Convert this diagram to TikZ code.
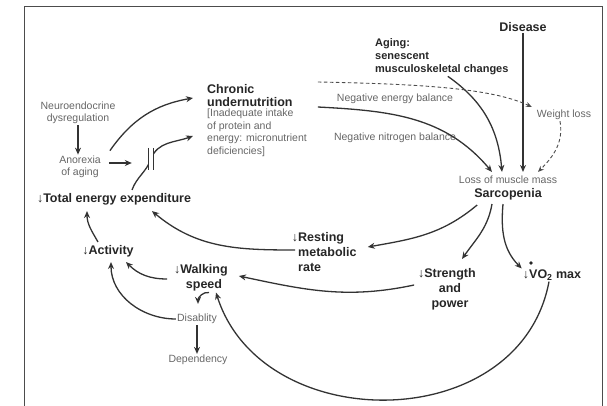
\documentclass[tikz,border=0pt]{standalone}
\usepackage{fontspec}
\setmainfont{Liberation Sans}
\usetikzlibrary{arrows.meta}

\tikzset{
  main/.style={font=\bfseries\fontsize{12.5}{15}\selectfont, text=black!85, inner sep=1pt, align=center},
  note/.style={font=\fontsize{10.5}{12.5}\selectfont, text=black!60, inner sep=1pt, align=center},
  link/.style={-{Stealth[length=7pt,width=6pt]}, line width=1.3pt, draw=black!80},
  hint/.style={-{Stealth[length=6pt,width=5pt]}, line width=0.9pt, draw=black!70, dash pattern=on 3.5pt off 2.5pt},
}
\newcommand{\dn}{↓}

\begin{document}
\begin{tikzpicture}[x=1pt,y=1pt]
\useasboundingbox (0,0) rectangle (607,-406);

% Frame
\draw[black!70, line width=1pt] (24,-406) -- (24,-7) -- (602,-7) -- (602,-406);

% Causes of sarcopenia
\node[main] (disease) at (523,-27) {Disease};
\node[main, font=\bfseries\fontsize{11}{13}\selectfont, anchor=west, align=left] (aging) at (374,-57) {Aging:\\senescent\\musculoskeletal changes};
\node[note] (weight) at (564,-115) {Weight loss};
\node[note] (loss) at (508,-180) {Loss of muscle mass};
\node[main] (sarco) at (508,-194) {Sarcopenia};
\node[note] (negen) at (395,-99) {Negative energy balance};
\node[note] (negni) at (395,-138) {Negative nitrogen balance};

% Undernutrition
\node[main, font=\bfseries\fontsize{12.5}{13.5}\selectfont, anchor=west, align=left] (chronic) at (206,-95.5) {Chronic\\undernutrition};
\node[note, anchor=west, align=left] (bracket) at (206,-133) {[Inadequate intake\\of protein and\\energy: micronutrient\\deficiencies]};
\node[note] (neuro) at (78,-113) {Neuroendocrine\\dysregulation};
\node[note] (anorexia) at (80,-167) {Anorexia\\of aging};
\node[inner sep=0, minimum width=4pt, minimum height=22pt] (brk) at (151,-159) {};
\coordinate (brkin) at ([shift={(-17pt,-4pt)}]brk.west);

% Energy expenditure and function
\node[main, inner ysep=6pt] (total) at (114,-199) {\dn Total energy expenditure};
\node[main, inner ysep=5pt] (activity) at (108,-251) {\dn Activity};
\node[main, anchor=west, align=left] (resting) at (297,-252) {\llap{\dn}Resting\\metabolic\\rate};
\node[main] (strength) at (450,-289) {\llap{\dn}Strength\\and\\power};
\node[main] (vo2) at (552,-275) {\dn VO\textsubscript{2} max};
\fill[black!85] ([shift={(-21pt,12pt)}]vo2.center) circle (1.8pt);
\node[main] (walking) at (204,-278) {\llap{\dn}Walking\\speed};
\node[note] (disab) at (197,-319) {Disablity};
\node[note] (depend) at (198,-360) {Dependency};

% Into sarcopenia
\draw[link] (disease.south) -- ([yshift=3pt]disease.south |- loss.north);
\draw[link] ([xshift=6pt]aging.south) to[out=-35,in=95] ([shift={(-6pt,3pt)}]loss.north);
\draw[link] ([shift={(24pt,-11.5pt)}]chronic.east) to[out=-3,in=130] ([shift={(-16pt,3pt)}]loss.north);
\draw[hint] ([shift={(24pt,13.5pt)}]chronic.east) .. controls +(101pt,-2pt) and +(-41pt,19pt) .. ([shift={(-4pt,2pt)}]weight.north west);
\draw[hint] ([xshift=-4pt]weight.south) to[out=-80,in=45] ([shift={(30pt,3pt)}]loss.north);

% Into undernutrition
\draw[link] (neuro.south) -- (neuro.south |- anorexia.north);
\draw[link] ([shift={(8pt,4pt)}]anorexia.north east) to[out=55,in=190] ([shift={(-13pt,-2.5pt)}]chronic.west);
\draw[link] ([shift={(7pt,4pt)}]anorexia.east) -- (brkin);
\draw[link] ([shift={(18pt,-3pt)}]total.north) to[out=70,in=250] (brk.center) to[out=70,in=200] ([shift={(-13pt,-3pt)}]bracket.west);
\fill[white] (brk.north west) rectangle (brk.south east);
\draw[line width=1.1pt, black!80] (brk.north west) -- (brk.south west) (brk.north east) -- (brk.south east);

% Out of sarcopenia
\draw[link] ([shift={(4pt,-4pt)}]sarco.south west) to[out=220,in=10] ([shift={(10pt,5pt)}]resting.east);
\draw[link] ([shift={(-16pt,-3pt)}]sarco.south) to[out=-100,in=55] ([shift={(12pt,8pt)}]strength.north);
\draw[link] ([shift={(-5pt,-3pt)}]sarco.south) to[out=-95,in=135] (vo2.north west);
\draw[link] ([shift={(-9pt,4pt)}]strength.west) to[out=192,in=-12] ([shift={(10pt,2pt)}]walking.east);
\draw[link] ([xshift=-3pt]vo2.south) .. controls +(-29pt,-155pt) and +(46pt,-145pt) .. ([xshift=12pt]walking.south);

% Down to activity
\draw[link] ([shift={(-2pt,2pt)}]resting.west) to[out=180,in=-40] ([xshift=38pt]total.south);
\draw[link] ([shift={(-10pt,-2pt)}]activity.north) to[out=120,in=-90] ([xshift=-27pt]total.south);
\draw[link] ([shift={(-12pt,-1pt)}]walking.west) to[out=180,in=-45] ([xshift=18pt]activity.south);
\draw[link] (disab.west) to[out=180,in=-90] ([xshift=3pt]activity.south);
\draw[link] ([xshift=5pt]walking.south) to[out=170,in=90] ([shift={(1pt,9pt)}]disab.north);
\draw[link] (disab.south) -- (disab.south |- depend.north);

\end{tikzpicture}
\end{document}
